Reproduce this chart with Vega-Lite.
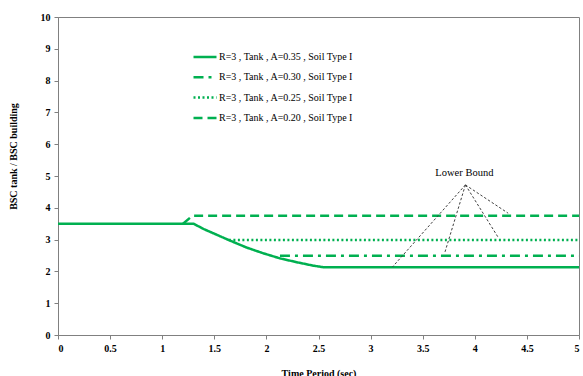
{
  "$schema": "https://vega.github.io/schema/vega-lite/v6.json",
  "width": 521,
  "height": 318,
  "autosize": {"type": "none"},
  "padding": {"left": 58, "top": 17, "right": 4, "bottom": 41},
  "config": {
    "font": "Liberation Serif",
    "view": {"stroke": "#808080", "strokeWidth": 1},
    "axis": {
      "grid": false,
      "domainColor": "#808080",
      "tickColor": "#808080",
      "labelFont": "Liberation Serif",
      "labelFontWeight": "bold",
      "labelFontSize": 10,
      "labelColor": "#000000",
      "labelOverlap": false,
      "titleFont": "Liberation Serif",
      "titleFontWeight": "bold",
      "titleFontSize": 10,
      "titleColor": "#000000",
      "tickSize": 4
    }
  },
  "encoding": {
    "x": {
      "type": "quantitative",
      "scale": {"domain": [0, 5], "nice": false},
      "axis": {"values": [0, 0.5, 1, 1.5, 2, 2.5, 3, 3.5, 4, 4.5, 5], "tickCount": 20, "format": ".1~f", "title": "Time Period (sec)", "titlePadding": 15, "labelPadding": 4}
    },
    "y": {
      "type": "quantitative",
      "scale": {"domain": [0, 10], "nice": false},
      "axis": {"values": [0, 1, 2, 3, 4, 5, 6, 7, 8, 9, 10], "tickCount": 20, "format": "d", "title": "BSC tank / BSC building", "titlePadding": 22, "titleY": 139, "labelPadding": 4}
    }
  },
  "layer": [
    {
      "data": {
        "values": [
          {"A": "0.35", "t": 0, "v": 3.5},
          {"A": "0.35", "t": 1.3, "v": 3.5},
          {"A": "0.35", "t": 1.4, "v": 3.33},
          {"A": "0.35", "t": 1.49, "v": 3.2},
          {"A": "0.35", "t": 1.65, "v": 2.97},
          {"A": "0.35", "t": 1.81, "v": 2.75},
          {"A": "0.35", "t": 1.97, "v": 2.57},
          {"A": "0.35", "t": 2.13, "v": 2.41},
          {"A": "0.35", "t": 2.29, "v": 2.29},
          {"A": "0.35", "t": 2.45, "v": 2.18},
          {"A": "0.35", "t": 2.55, "v": 2.13},
          {"A": "0.35", "t": 5, "v": 2.13},
          {"A": "0.30", "t": 2.13, "v": 2.49},
          {"A": "0.30", "t": 5, "v": 2.49},
          {"A": "0.25", "t": 1.64, "v": 2.99},
          {"A": "0.25", "t": 5, "v": 2.99},
          {"A": "0.20", "t": 1.2, "v": 3.5},
          {"A": "0.20", "t": 1.29, "v": 3.75},
          {"A": "0.20", "t": 5, "v": 3.75}
        ]
      },
      "mark": {"type": "line", "color": "#00b050", "strokeWidth": 2.5, "clip": true},
      "encoding": {
        "x": {"field": "t"},
        "y": {"field": "v"},
        "strokeDash": {
          "field": "A", "type": "nominal",
          "scale": {
            "domain": ["0.35", "0.30", "0.25", "0.20"],
            "range": [[1, 0], [10, 5, 3, 5], [2, 2.5], [9, 5]]
          },
          "legend": {
            "title": null,
            "orient": "none",
            "legendX": 134,
            "legendY": 27,
            "symbolType": "stroke",
            "symbolSize": 529,
            "symbolStrokeWidth": 2.5,
            "symbolStrokeColor": "#00b050",
            "labelFont": "Liberation Serif",
            "labelFontSize": 10,
            "labelColor": "#000000",
            "labelOffset": 1,
            "rowPadding": 2.3,
            "padding": 0,
            "labelExpr": "'R=3 , Tank , A=' + datum.label + ' , Soil Type I'"
          }
        }
      }
    },
    {
      "data": {
        "values": [
          {"x1": 3.91, "y1": 4.72, "x2": 3.21, "y2": 2.14},
          {"x1": 3.91, "y1": 4.72, "x2": 3.71, "y2": 2.57},
          {"x1": 3.91, "y1": 4.72, "x2": 4.23, "y2": 3.04},
          {"x1": 3.91, "y1": 4.72, "x2": 4.32, "y2": 3.83}
        ]
      },
      "mark": {"type": "rule", "color": "#404040", "strokeWidth": 1, "strokeDash": [2.5, 2]},
      "encoding": {
        "x": {"field": "x1"},
        "y": {"field": "y1"},
        "x2": {"field": "x2"},
        "y2": {"field": "y2"}
      }
    },
    {
      "data": {"values": [{"x": 3.9, "y": 5.09, "label": "Lower Bound"}]},
      "mark": {"type": "text", "font": "Liberation Serif", "fontSize": 10.5, "color": "#000000", "align": "center", "baseline": "middle"},
      "encoding": {
        "x": {"field": "x"},
        "y": {"field": "y"},
        "text": {"field": "label"}
      }
    }
  ]
}
